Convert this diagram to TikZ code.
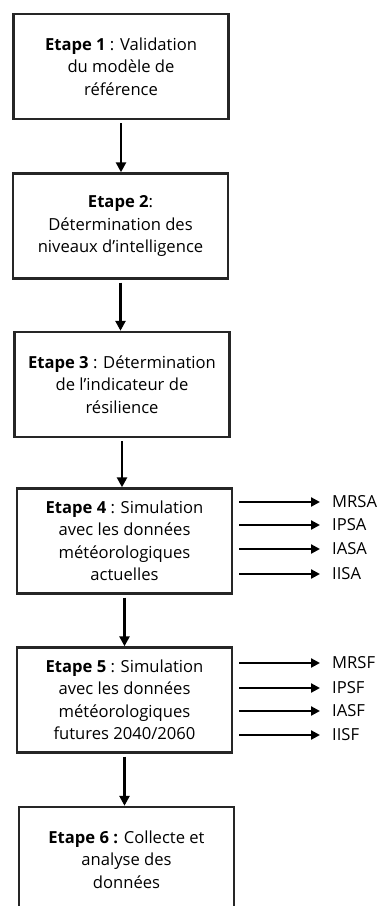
\documentclass[tikz,border=0pt]{standalone}
\usepackage{fontspec}
\setmainfont{Open Sans}
\usetikzlibrary{arrows.meta}
\begin{document}
\begin{tikzpicture}[x=1pt,y=-1pt,
  stepbox/.style={draw=black!85, line width=2.4pt, minimum width=215pt, minimum height=105pt,
    inner sep=0pt, align=center, font=\fontsize{16.6}{22.5}\selectfont},
  flow/.style={line width=2.8pt, -{Triangle[length=10pt,width=10pt]}, shorten <=3pt},
  outarrow/.style={line width=2.8pt, -{Triangle[length=9pt,width=9pt]}},
  result/.style={anchor=west, inner sep=0pt, font=\fontsize{16.6}{20}\selectfont}]
  \useasboundingbox (0,0) rectangle (381,906);
  \begin{scope}
  \clip (0,0) rectangle (381,906);
  \node[stepbox] (s1) at (121,66.5) {\textbf{Etape 1} : Validation\\du modèle de\\référence};
  \node[stepbox] (s2) at (120.5,226) {\textbf{Etape 2}:\\Détermination des\\niveaux d’intelligence};
  \node[stepbox] (s3) at (122,384.5) {\textbf{Etape 3} : Détermination\\de l’indicateur de\\résilience};
  \node[stepbox] (s4) at (124.5,541) {\textbf{Etape 4} : Simulation\\avec les données\\météorologiques\\actuelles};
  \node[stepbox] (s5) at (124.5,700) {\textbf{Etape 5} : Simulation\\avec les données\\météorologiques\\futures 2040/2060};
  \node[stepbox] (s6) at (126.5,859.5) {\textbf{Etape 6 :} Collecte et\\analyse des\\données};
  \end{scope}

  % vertical flow between steps
  \draw[flow] (s1.south) -- (s1.south |- s2.north);
  \draw[flow] (s2.south) -- (s2.south |- s3.north);
  \draw[flow] (s3.south) -- (s3.south |- s4.north);
  \draw[flow] (s4.south) -- (s4.south |- s5.north);
  \draw[flow] (s5.south) -- (s5.south |- s6.north);

  % outputs of step 4
  \node[result] (a1) at (332,502) {MRSA};
  \node[result] (a2) at (332,525) {IPSA};
  \node[result] (a3) at (332,549) {IASA};
  \node[result] (a4) at (332,574) {IISA};
  \foreach \r in {a1,a2,a3,a4}
    \draw[outarrow] ([xshift=6pt]s4.east |- \r.west) -- ([xshift=-12pt]\r.west);

  % outputs of step 5
  \node[result] (f1) at (332,663) {MRSF};
  \node[result] (f2) at (332,688) {IPSF};
  \node[result] (f3) at (332,711) {IASF};
  \node[result] (f4) at (332,735) {IISF};
  \foreach \r in {f1,f2,f3,f4}
    \draw[outarrow] ([xshift=6pt]s5.east |- \r.west) -- ([xshift=-12pt]\r.west);
\end{tikzpicture}
\end{document}
